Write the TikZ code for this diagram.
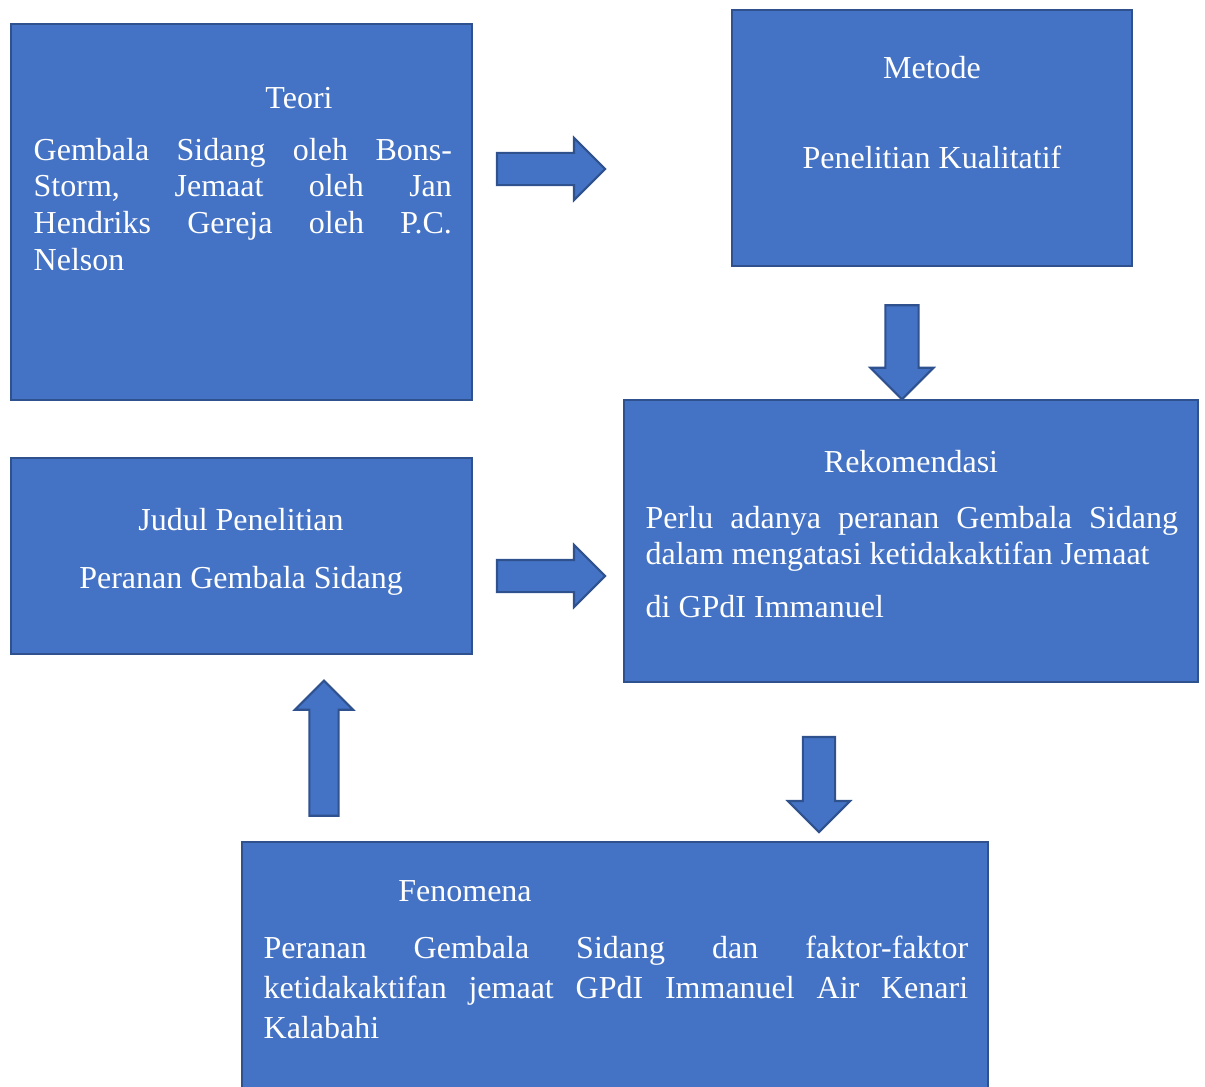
\documentclass[tikz,border=0pt]{standalone}
\usepackage{fontspec}
\setmainfont{Liberation Serif}
\usetikzlibrary{shapes.arrows}
\definecolor{boxblue}{HTML}{4472C4}
\definecolor{boxline}{HTML}{2F528F}

\begin{document}
\begin{tikzpicture}[
  x=0.01cm, y=-0.01cm,
  box/.style={rectangle, draw=boxline, fill=boxblue, line width=0.6pt, inner sep=0pt},
  head/.style={text=white, inner sep=0pt, anchor=base, font=\fontsize{9.1}{10.5}\selectfont},
  body/.style={text=white, inner sep=0pt, anchor=base west, align=justify, font=\fontsize{9.1}{10.5}\selectfont},
  barrow/.style={single arrow, draw=boxline, fill=boxblue, line width=0.6pt, inner xsep=0pt}
]
\useasboundingbox (0,0) rectangle (1205,1087);

% boxes
\node[box, minimum width=46.1mm, minimum height=37.6mm] (teori) at (241.5,212) {};
\node[box, minimum width=40mm, minimum height=25.6mm] (metode) at (932,138) {};
\node[box, minimum width=46.1mm, minimum height=19.6mm] (judul) at (241.5,556) {};
\node[box, minimum width=57.4mm, minimum height=28.2mm] (rekom) at (911,541) {};
\node[box, minimum width=74.6mm, minimum height=25.8mm] (fenomena) at (615,971) {};

% texts
\node[head] (teoriT) at (299,108) {Teori};
\node[body, text width=41.8mm] (teoriB) at (33,160)
  {Gembala Sidang oleh Bons-\linebreak Storm, Jemaat oleh Jan\linebreak Hendriks Gereja oleh P.C.\linebreak Nelson};
\node[head] (metodeT) at (932,78) {Metode};
\node[head] (metodeB) at (932,168) {Penelitian Kualitatif};
\node[head] (judulT) at (241,530) {Judul Penelitian};
\node[head] (judulB) at (241,588) {Peranan Gembala Sidang};
\node[head] (rekomT) at (911,472) {Rekomendasi};
\node[body, text width=53.2mm] (rekomB) at (645,528)
  {Perlu adanya peranan Gembala Sidang\linebreak dalam mengatasi ketidakaktifan Jemaat\par\vspace{1.6mm}di GPdI Immanuel};
\node[head] (fenomenaT) at (465,901) {Fenomena};
\node[body, text width=70.4mm, font=\fontsize{9.1}{11.4}\selectfont] (fenomenaB) at (263,958)
  {Peranan Gembala Sidang dan faktor-faktor\linebreak ketidakaktifan jemaat GPdI Immanuel Air Kenari\linebreak Kalabahi};

% block arrows
\node[barrow, minimum height=10.8mm, inner ysep=1.5mm, single arrow head extend=1.5mm] (ar1) at (543,169) {};
\node[barrow, minimum height=10.8mm, inner ysep=1.5mm, single arrow head extend=1.5mm] (ar2) at (543,576) {};
\node[barrow, rotate=-90, minimum height=9.4mm, inner ysep=1.55mm, single arrow head extend=1.5mm] (ar3) at (902,344) {};
\node[barrow, rotate=-90, minimum height=9.5mm, inner ysep=1.5mm, single arrow head extend=1.5mm] (ar4) at (819,776.5) {};
\node[barrow, rotate=90, minimum height=13.5mm, inner ysep=1.35mm, single arrow head extend=1.45mm] (ar5) at (324,755.5) {};
\end{tikzpicture}
\end{document}
